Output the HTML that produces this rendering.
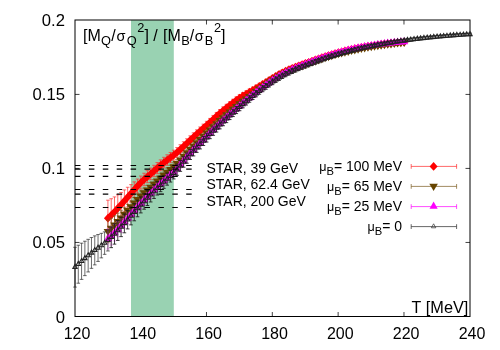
<!DOCTYPE html>
<html><head><meta charset="utf-8"><title>chart</title>
<style>html,body{margin:0;padding:0;background:#fff}svg{display:block;will-change:transform}text{font-family:"Liberation Sans",sans-serif;fill:#000}</style>
</head><body>
<svg width="500" height="350" viewBox="0 0 500 350">
<rect width="500" height="350" fill="#fff"/>
<path d="M140.63 316.5v-4.5M140.63 20v4.5M206.47 316.5v-4.5M206.47 20v4.5M272.3 316.5v-4.5M272.3 20v4.5M338.13 316.5v-4.5M338.13 20v4.5M403.97 316.5v-4.5M403.97 20v4.5M75 242.44h4.5M470 242.44h-4.5M75 168.42h4.5M470 168.42h-4.5M75 94.41h4.5M470 94.41h-4.5" fill="none" stroke="#000" stroke-width="0.75"/>
<rect x="131" y="20.1" width="42.8" height="296.4" fill="#99d2b2"/>
<rect x="75.0" y="20.0" width="395.0" height="296.5" fill="none" stroke="#000" stroke-width="1"/>
<path d="M107.92 200.19V236.19M106.12 200.19h3.6M106.12 236.19h3.6M111.21 198.73V231.52M109.41 198.73h3.6M109.41 231.52h3.6M114.5 196.91V226.66M112.7 196.91h3.6M112.7 226.66h3.6M117.79 194.8V221.72M115.99 194.8h3.6M115.99 221.72h3.6M121.08 192.47V216.8M119.28 192.47h3.6M119.28 216.8h3.6M124.38 189.91V211.91M122.58 189.91h3.6M122.58 211.91h3.6M127.67 187.27V207.02M125.87 187.27h3.6M125.87 207.02h3.6M130.96 184.63V202.15M129.16 184.63h3.6M129.16 202.15h3.6M134.25 181.89V197.41M132.45 181.89h3.6M132.45 197.41h3.6M137.54 179.04V192.98M135.74 179.04h3.6M135.74 192.98h3.6M140.83 176.05V189.05M139.03 176.05h3.6M139.03 189.05h3.6M144.12 173.24V185.72M142.32 173.24h3.6M142.32 185.72h3.6M147.42 170.64V182.69M145.62 170.64h3.6M145.62 182.69h3.6M150.71 168.05V179.73M148.91 168.05h3.6M148.91 179.73h3.6M154 165.32V176.69M152.2 165.32h3.6M152.2 176.69h3.6M157.29 162.57V173.68M155.49 162.57h3.6M155.49 173.68h3.6M160.58 159.89V170.75M158.78 159.89h3.6M158.78 170.75h3.6M163.88 157.32V167.97M162.07 157.32h3.6M162.07 167.97h3.6M167.17 154.83V165.27M165.37 154.83h3.6M165.37 165.27h3.6M170.46 152.48V162.71M168.66 152.48h3.6M168.66 162.71h3.6M173.75 150.2V160.2M171.95 150.2h3.6M171.95 160.2h3.6M177.04 147.56V157.32M175.24 147.56h3.6M175.24 157.32h3.6M180.33 144.73V154.26M178.53 144.73h3.6M178.53 154.26h3.6M183.62 141.77V151.07M181.82 141.77h3.6M181.82 151.07h3.6M186.92 138.78V147.86M185.12 138.78h3.6M185.12 147.86h3.6M190.21 135.8V144.67M188.41 135.8h3.6M188.41 144.67h3.6M193.5 132.82V141.5M191.7 132.82h3.6M191.7 141.5h3.6M196.79 129.87V138.36M194.99 129.87h3.6M194.99 138.36h3.6M200.08 126.97V135.28M198.28 126.97h3.6M198.28 135.28h3.6M203.38 124.14V132.29M201.57 124.14h3.6M201.57 132.29h3.6M206.67 121.32V129.32M204.87 121.32h3.6M204.87 129.32h3.6M209.96 118.42V126.29M208.16 118.42h3.6M208.16 126.29h3.6M213.25 115.43V123.16M211.45 115.43h3.6M211.45 123.16h3.6M216.54 112.46V120.06M214.74 112.46h3.6M214.74 120.06h3.6M219.83 109.6V117.08M218.03 109.6h3.6M218.03 117.08h3.6M223.12 106.88V114.24M221.32 106.88h3.6M221.32 114.24h3.6M226.42 104.27V111.52M224.62 104.27h3.6M224.62 111.52h3.6M229.71 101.74V108.88M227.91 101.74h3.6M227.91 108.88h3.6M233 99.27V106.3M231.2 99.27h3.6M231.2 106.3h3.6M236.29 96.89V103.81M234.49 96.89h3.6M234.49 103.81h3.6M239.58 94.63V101.45M237.78 94.63h3.6M237.78 101.45h3.6M242.88 92.6V99.33M241.07 92.6h3.6M241.07 99.33h3.6M246.17 90.81V97.45M244.37 90.81h3.6M244.37 97.45h3.6M249.46 89V95.54M247.66 89h3.6M247.66 95.54h3.6M252.75 87.07V93.53M250.95 87.07h3.6M250.95 93.53h3.6M256.04 85.17V91.55M254.24 85.17h3.6M254.24 91.55h3.6M259.33 83.27V89.57M257.53 83.27h3.6M257.53 89.57h3.6M262.62 81.35V87.56M260.82 81.35h3.6M260.82 87.56h3.6M265.92 79.36V85.5M264.12 79.36h3.6M264.12 85.5h3.6M269.21 77.34V83.41M267.41 77.34h3.6M267.41 83.41h3.6M272.5 75.34V81.34M270.7 75.34h3.6M270.7 81.34h3.6M275.79 73.4V79.34M273.99 73.4h3.6M273.99 79.34h3.6M279.08 71.58V77.44M277.28 71.58h3.6M277.28 77.44h3.6M282.38 69.91V75.7M280.57 69.91h3.6M280.57 75.7h3.6M285.67 68.36V74.09M283.87 68.36h3.6M283.87 74.09h3.6M288.96 66.92V72.58M287.16 66.92h3.6M287.16 72.58h3.6M292.25 65.58V71.17M290.45 65.58h3.6M290.45 71.17h3.6M295.54 64.31V69.83M293.74 64.31h3.6M293.74 69.83h3.6M298.83 63.11V68.57M297.03 63.11h3.6M297.03 68.57h3.6M302.12 61.97V67.36M300.32 61.97h3.6M300.32 67.36h3.6M305.42 60.84V66.17M303.62 60.84h3.6M303.62 66.17h3.6M308.71 59.71V64.97M306.91 59.71h3.6M306.91 64.97h3.6M312 58.57V63.77M310.2 58.57h3.6M310.2 63.77h3.6M315.29 57.44V62.58M313.49 57.44h3.6M313.49 62.58h3.6M318.58 56.32V61.4M316.78 56.32h3.6M316.78 61.4h3.6M321.88 55.22V60.24M320.07 55.22h3.6M320.07 60.24h3.6M325.17 54.15V59.11M323.37 54.15h3.6M323.37 59.11h3.6M328.46 53.11V58.02M326.66 53.11h3.6M326.66 58.02h3.6M331.75 52.12V56.97M329.95 52.12h3.6M329.95 56.97h3.6M335.04 51.18V55.97M333.24 51.18h3.6M333.24 55.97h3.6M338.33 50.3V55.03M336.53 50.3h3.6M336.53 55.03h3.6M341.62 49.46V54.14M339.82 49.46h3.6M339.82 54.14h3.6M344.92 48.65V53.29M343.12 48.65h3.6M343.12 53.29h3.6M348.21 47.89V52.47M346.41 47.89h3.6M346.41 52.47h3.6M351.5 47.16V51.69M349.7 47.16h3.6M349.7 51.69h3.6M354.79 46.48V50.96M352.99 46.48h3.6M352.99 50.96h3.6M358.08 45.84V50.28M356.28 45.84h3.6M356.28 50.28h3.6M361.38 45.24V49.64M359.57 45.24h3.6M359.57 49.64h3.6M364.67 44.68V49.04M362.87 44.68h3.6M362.87 49.04h3.6M367.96 44.16V48.48M366.16 44.16h3.6M366.16 48.48h3.6M371.25 43.67V47.95M369.45 43.67h3.6M369.45 47.95h3.6M374.54 43.21V47.45M372.74 43.21h3.6M372.74 47.45h3.6M377.83 42.76V46.97M376.03 42.76h3.6M376.03 46.97h3.6M381.12 42.34V46.51M379.32 42.34h3.6M379.32 46.51h3.6M384.42 41.93V46.07M382.62 41.93h3.6M382.62 46.07h3.6M387.71 41.55V45.67M385.91 41.55h3.6M385.91 45.67h3.6M391 41.2V45.29M389.2 41.2h3.6M389.2 45.29h3.6M394.29 40.88V44.94M392.49 40.88h3.6M392.49 44.94h3.6M397.58 40.58V44.61M395.78 40.58h3.6M395.78 44.61h3.6M400.88 40.3V44.32M399.07 40.3h3.6M399.07 44.32h3.6M404.17 40.06V44.06M402.37 40.06h3.6M402.37 44.06h3.6" fill="none" stroke="#ff2a2a" stroke-width="0.7"/>
<path d="M107.92 213.79l4 4.4l-4 4.4l-4 -4.4zM111.21 210.73l4 4.4l-4 4.4l-4 -4.4zM114.5 207.39l4 4.4l-4 4.4l-4 -4.4zM117.79 203.86l4 4.4l-4 4.4l-4 -4.4zM121.08 200.24l4 4.4l-4 4.4l-4 -4.4zM124.38 196.51l4 4.4l-4 4.4l-4 -4.4zM127.67 192.74l4 4.4l-4 4.4l-4 -4.4zM130.96 188.99l4 4.4l-4 4.4l-4 -4.4zM134.25 185.25l4 4.4l-4 4.4l-4 -4.4zM137.54 181.61l4 4.4l-4 4.4l-4 -4.4zM140.83 178.15l4 4.4l-4 4.4l-4 -4.4zM144.12 175.08l4 4.4l-4 4.4l-4 -4.4zM147.42 172.26l4 4.4l-4 4.4l-4 -4.4zM150.71 169.49l4 4.4l-4 4.4l-4 -4.4zM154 166.61l4 4.4l-4 4.4l-4 -4.4zM157.29 163.72l4 4.4l-4 4.4l-4 -4.4zM160.58 160.92l4 4.4l-4 4.4l-4 -4.4zM163.88 158.24l4 4.4l-4 4.4l-4 -4.4zM167.17 155.65l4 4.4l-4 4.4l-4 -4.4zM170.46 153.19l4 4.4l-4 4.4l-4 -4.4zM173.75 150.8l4 4.4l-4 4.4l-4 -4.4zM177.04 148.04l4 4.4l-4 4.4l-4 -4.4zM180.33 145.09l4 4.4l-4 4.4l-4 -4.4zM183.62 142.02l4 4.4l-4 4.4l-4 -4.4zM186.92 138.92l4 4.4l-4 4.4l-4 -4.4zM190.21 135.83l4 4.4l-4 4.4l-4 -4.4zM193.5 132.76l4 4.4l-4 4.4l-4 -4.4zM196.79 129.72l4 4.4l-4 4.4l-4 -4.4zM200.08 126.73l4 4.4l-4 4.4l-4 -4.4zM203.38 123.81l4 4.4l-4 4.4l-4 -4.4zM206.67 120.92l4 4.4l-4 4.4l-4 -4.4zM209.96 117.95l4 4.4l-4 4.4l-4 -4.4zM213.25 114.9l4 4.4l-4 4.4l-4 -4.4zM216.54 111.86l4 4.4l-4 4.4l-4 -4.4zM219.83 108.94l4 4.4l-4 4.4l-4 -4.4zM223.12 106.16l4 4.4l-4 4.4l-4 -4.4zM226.42 103.49l4 4.4l-4 4.4l-4 -4.4zM229.71 100.91l4 4.4l-4 4.4l-4 -4.4zM233 98.38l4 4.4l-4 4.4l-4 -4.4zM236.29 95.95l4 4.4l-4 4.4l-4 -4.4zM239.58 93.64l4 4.4l-4 4.4l-4 -4.4zM242.88 91.57l4 4.4l-4 4.4l-4 -4.4zM246.17 89.73l4 4.4l-4 4.4l-4 -4.4zM249.46 87.87l4 4.4l-4 4.4l-4 -4.4zM252.75 85.9l4 4.4l-4 4.4l-4 -4.4zM256.04 83.96l4 4.4l-4 4.4l-4 -4.4zM259.33 82.02l4 4.4l-4 4.4l-4 -4.4zM262.62 80.06l4 4.4l-4 4.4l-4 -4.4zM265.92 78.03l4 4.4l-4 4.4l-4 -4.4zM269.21 75.97l4 4.4l-4 4.4l-4 -4.4zM272.5 73.94l4 4.4l-4 4.4l-4 -4.4zM275.79 71.97l4 4.4l-4 4.4l-4 -4.4zM279.08 70.11l4 4.4l-4 4.4l-4 -4.4zM282.38 68.41l4 4.4l-4 4.4l-4 -4.4zM285.67 66.83l4 4.4l-4 4.4l-4 -4.4zM288.96 65.35l4 4.4l-4 4.4l-4 -4.4zM292.25 63.97l4 4.4l-4 4.4l-4 -4.4zM295.54 62.67l4 4.4l-4 4.4l-4 -4.4zM298.83 61.44l4 4.4l-4 4.4l-4 -4.4zM302.12 60.26l4 4.4l-4 4.4l-4 -4.4zM305.42 59.1l4 4.4l-4 4.4l-4 -4.4zM308.71 57.94l4 4.4l-4 4.4l-4 -4.4zM312 56.77l4 4.4l-4 4.4l-4 -4.4zM315.29 55.61l4 4.4l-4 4.4l-4 -4.4zM318.58 54.46l4 4.4l-4 4.4l-4 -4.4zM321.88 53.33l4 4.4l-4 4.4l-4 -4.4zM325.17 52.23l4 4.4l-4 4.4l-4 -4.4zM328.46 51.17l4 4.4l-4 4.4l-4 -4.4zM331.75 50.15l4 4.4l-4 4.4l-4 -4.4zM335.04 49.18l4 4.4l-4 4.4l-4 -4.4zM338.33 48.26l4 4.4l-4 4.4l-4 -4.4zM341.62 47.4l4 4.4l-4 4.4l-4 -4.4zM344.92 46.57l4 4.4l-4 4.4l-4 -4.4zM348.21 45.78l4 4.4l-4 4.4l-4 -4.4zM351.5 45.03l4 4.4l-4 4.4l-4 -4.4zM354.79 44.32l4 4.4l-4 4.4l-4 -4.4zM358.08 43.66l4 4.4l-4 4.4l-4 -4.4zM361.38 43.04l4 4.4l-4 4.4l-4 -4.4zM364.67 42.46l4 4.4l-4 4.4l-4 -4.4zM367.96 41.92l4 4.4l-4 4.4l-4 -4.4zM371.25 41.41l4 4.4l-4 4.4l-4 -4.4zM374.54 40.93l4 4.4l-4 4.4l-4 -4.4zM377.83 40.47l4 4.4l-4 4.4l-4 -4.4zM381.12 40.02l4 4.4l-4 4.4l-4 -4.4zM384.42 39.6l4 4.4l-4 4.4l-4 -4.4zM387.71 39.21l4 4.4l-4 4.4l-4 -4.4zM391 38.84l4 4.4l-4 4.4l-4 -4.4zM394.29 38.51l4 4.4l-4 4.4l-4 -4.4zM397.58 38.2l4 4.4l-4 4.4l-4 -4.4zM400.88 37.91l4 4.4l-4 4.4l-4 -4.4zM404.17 37.66l4 4.4l-4 4.4l-4 -4.4z" fill="#ff0000"/>
<path d="M107.92 220.21V242.81M106.12 220.21h3.6M106.12 242.81h3.6M111.21 218.18V238.72M109.41 218.18h3.6M109.41 238.72h3.6M114.5 215.8V234.45M112.7 215.8h3.6M112.7 234.45h3.6M117.79 213.13V230.13M115.99 213.13h3.6M115.99 230.13h3.6M121.08 210.27V225.8M119.28 210.27h3.6M119.28 225.8h3.6M124.38 207.32V221.49M122.58 207.32h3.6M122.58 221.49h3.6M127.67 204.21V217.19M125.87 204.21h3.6M125.87 217.19h3.6M130.96 200.94V212.94M129.16 200.94h3.6M129.16 212.94h3.6M134.25 197.59V208.76M132.45 197.59h3.6M132.45 208.76h3.6M137.54 194.25V204.73M135.74 194.25h3.6M135.74 204.73h3.6M140.83 190.98V200.98M139.03 190.98h3.6M139.03 200.98h3.6M144.12 188.07V197.75M142.32 188.07h3.6M142.32 197.75h3.6M147.42 185.39V194.81M145.62 185.39h3.6M145.62 194.81h3.6M150.71 182.65V191.83M148.91 182.65h3.6M148.91 191.83h3.6M154 179.67V188.65M152.2 179.67h3.6M152.2 188.65h3.6M157.29 176.67V185.46M155.49 176.67h3.6M155.49 185.46h3.6M160.58 173.72V182.35M158.78 173.72h3.6M158.78 182.35h3.6M163.88 170.87V179.35M162.07 170.87h3.6M162.07 179.35h3.6M167.17 168.08V176.41M165.37 168.08h3.6M165.37 176.41h3.6M170.46 165.4V173.57M168.66 165.4h3.6M168.66 173.57h3.6M173.75 162.75V170.75M171.95 162.75h3.6M171.95 170.75h3.6M177.04 159.63V167.45M175.24 159.63h3.6M175.24 167.45h3.6M180.33 156.2V163.84M178.53 156.2h3.6M178.53 163.84h3.6M183.62 152.64V160.1M181.82 152.64h3.6M181.82 160.1h3.6M186.92 149.14V156.42M185.12 149.14h3.6M185.12 156.42h3.6M190.21 145.82V152.93M188.41 145.82h3.6M188.41 152.93h3.6M193.5 142.58V149.53M191.7 142.58h3.6M191.7 149.53h3.6M196.79 139.39V146.19M194.99 139.39h3.6M194.99 146.19h3.6M200.08 136.24V142.89M198.28 136.24h3.6M198.28 142.89h3.6M203.38 133.12V139.64M201.57 133.12h3.6M201.57 139.64h3.6M206.67 130.01V136.41M204.87 130.01h3.6M204.87 136.41h3.6M209.96 126.89V133.18M208.16 126.89h3.6M208.16 133.18h3.6M213.25 123.77V129.95M211.45 123.77h3.6M211.45 129.95h3.6M216.54 120.7V126.78M214.74 120.7h3.6M214.74 126.78h3.6M219.83 117.71V123.7M218.03 117.71h3.6M218.03 123.7h3.6M223.12 114.81V120.7M221.32 114.81h3.6M221.32 120.7h3.6M226.42 111.98V117.77M224.62 111.98h3.6M224.62 117.77h3.6M229.71 109.19V114.9M227.91 109.19h3.6M227.91 114.9h3.6M233 106.46V112.08M231.2 106.46h3.6M231.2 112.08h3.6M236.29 103.78V109.33M234.49 103.78h3.6M234.49 109.33h3.6M239.58 101.18V106.64M237.78 101.18h3.6M237.78 106.64h3.6M242.88 98.71V104.09M241.07 98.71h3.6M241.07 104.09h3.6M246.17 96.36V101.67M244.37 96.36h3.6M244.37 101.67h3.6M249.46 93.97V99.2M247.66 93.97h3.6M247.66 99.2h3.6M252.75 91.46V96.63M250.95 91.46h3.6M250.95 96.63h3.6M256.04 88.96V94.06M254.24 88.96h3.6M254.24 94.06h3.6M259.33 86.52V91.56M257.53 86.52h3.6M257.53 91.56h3.6M262.62 84.16V89.14M260.82 84.16h3.6M260.82 89.14h3.6M265.92 81.92V86.84M264.12 81.92h3.6M264.12 86.84h3.6M269.21 79.76V84.62M267.41 79.76h3.6M267.41 84.62h3.6M272.5 77.68V82.48M270.7 77.68h3.6M270.7 82.48h3.6M275.79 75.69V80.43M273.99 75.69h3.6M273.99 80.43h3.6M279.08 73.81V78.5M277.28 73.81h3.6M277.28 78.5h3.6M282.38 72.06V76.69M280.57 72.06h3.6M280.57 76.69h3.6M285.67 70.42V75M283.87 70.42h3.6M283.87 75h3.6M288.96 68.89V73.42M287.16 68.89h3.6M287.16 73.42h3.6M292.25 67.45V71.93M290.45 67.45h3.6M290.45 71.93h3.6M295.54 66.1V70.52M293.74 66.1h3.6M293.74 70.52h3.6M298.83 64.84V69.2M297.03 64.84h3.6M297.03 69.2h3.6M302.12 63.63V67.95M300.32 63.63h3.6M300.32 67.95h3.6M305.42 62.47V66.73M303.62 62.47h3.6M303.62 66.73h3.6M308.71 61.31V65.53M306.91 61.31h3.6M306.91 65.53h3.6M312 60.16V64.32M310.2 60.16h3.6M310.2 64.32h3.6M315.29 59.02V63.13M313.49 59.02h3.6M313.49 63.13h3.6M318.58 57.89V61.96M316.78 57.89h3.6M316.78 61.96h3.6M321.88 56.79V60.81M320.07 56.79h3.6M320.07 60.81h3.6M325.17 55.72V59.69M323.37 55.72h3.6M323.37 59.69h3.6M328.46 54.69V58.61M326.66 54.69h3.6M326.66 58.61h3.6M331.75 53.69V57.57M329.95 53.69h3.6M329.95 57.57h3.6M335.04 52.75V56.59M333.24 52.75h3.6M333.24 56.59h3.6M338.33 51.87V55.66M336.53 51.87h3.6M336.53 55.66h3.6M341.62 51.03V54.78M339.82 51.03h3.6M339.82 54.78h3.6M344.92 50.22V53.93M343.12 50.22h3.6M343.12 53.93h3.6M348.21 49.45V53.11M346.41 49.45h3.6M346.41 53.11h3.6M351.5 48.71V52.33M349.7 48.71h3.6M349.7 52.33h3.6M354.79 48V51.59M352.99 48h3.6M352.99 51.59h3.6M358.08 47.32V50.88M356.28 47.32h3.6M356.28 50.88h3.6M361.38 46.68V50.2M359.57 46.68h3.6M359.57 50.2h3.6M364.67 46.07V49.55M362.87 46.07h3.6M362.87 49.55h3.6M367.96 45.49V48.94M366.16 45.49h3.6M366.16 48.94h3.6M371.25 44.94V48.36M369.45 44.94h3.6M369.45 48.36h3.6M374.54 44.42V47.81M372.74 44.42h3.6M372.74 47.81h3.6M377.83 43.92V47.29M376.03 43.92h3.6M376.03 47.29h3.6M381.12 43.45V46.78M379.32 43.45h3.6M379.32 46.78h3.6M384.42 42.99V46.3M382.62 42.99h3.6M382.62 46.3h3.6M387.71 42.56V45.85M385.91 42.56h3.6M385.91 45.85h3.6M391 42.15V45.42M389.2 42.15h3.6M389.2 45.42h3.6M394.29 41.77V45.02M392.49 41.77h3.6M392.49 45.02h3.6M397.58 41.41V44.64M395.78 41.41h3.6M395.78 44.64h3.6M400.88 41.07V44.29M399.07 41.07h3.6M399.07 44.29h3.6M404.17 40.76V43.96M402.37 40.76h3.6M402.37 43.96h3.6" fill="none" stroke="#7a5a20" stroke-width="0.7"/>
<path d="M103.62 228.91h8.6l-4.3 7.2zM106.91 225.85h8.6l-4.3 7.2zM110.2 222.53h8.6l-4.3 7.2zM113.49 219.03h8.6l-4.3 7.2zM116.78 215.43h8.6l-4.3 7.2zM120.08 211.8h8.6l-4.3 7.2zM123.37 208.1h8.6l-4.3 7.2zM126.66 204.34h8.6l-4.3 7.2zM129.95 200.58h8.6l-4.3 7.2zM133.24 196.89h8.6l-4.3 7.2zM136.53 193.38h8.6l-4.3 7.2zM139.82 190.31h8.6l-4.3 7.2zM143.12 187.5h8.6l-4.3 7.2zM146.41 184.64h8.6l-4.3 7.2zM149.7 181.56h8.6l-4.3 7.2zM152.99 178.47h8.6l-4.3 7.2zM156.28 175.44h8.6l-4.3 7.2zM159.57 172.51h8.6l-4.3 7.2zM162.87 169.64h8.6l-4.3 7.2zM166.16 166.88h8.6l-4.3 7.2zM169.45 164.15h8.6l-4.3 7.2zM172.74 160.94h8.6l-4.3 7.2zM176.03 157.42h8.6l-4.3 7.2zM179.32 153.77h8.6l-4.3 7.2zM182.62 150.18h8.6l-4.3 7.2zM185.91 146.78h8.6l-4.3 7.2zM189.2 143.45h8.6l-4.3 7.2zM192.49 140.19h8.6l-4.3 7.2zM195.78 136.97h8.6l-4.3 7.2zM199.07 133.78h8.6l-4.3 7.2zM202.37 130.61h8.6l-4.3 7.2zM205.66 127.44h8.6l-4.3 7.2zM208.95 124.26h8.6l-4.3 7.2zM212.24 121.14h8.6l-4.3 7.2zM215.53 118.11h8.6l-4.3 7.2zM218.82 115.16h8.6l-4.3 7.2zM222.12 112.27h8.6l-4.3 7.2zM225.41 109.45h8.6l-4.3 7.2zM228.7 106.67h8.6l-4.3 7.2zM231.99 103.95h8.6l-4.3 7.2zM235.28 101.31h8.6l-4.3 7.2zM238.57 98.8h8.6l-4.3 7.2zM241.87 96.41h8.6l-4.3 7.2zM245.16 93.98h8.6l-4.3 7.2zM248.45 91.44h8.6l-4.3 7.2zM251.74 88.91h8.6l-4.3 7.2zM255.03 86.44h8.6l-4.3 7.2zM258.32 84.05h8.6l-4.3 7.2zM261.62 81.78h8.6l-4.3 7.2zM264.91 79.59h8.6l-4.3 7.2zM268.2 77.48h8.6l-4.3 7.2zM271.49 75.46h8.6l-4.3 7.2zM274.78 73.55h8.6l-4.3 7.2zM278.07 71.77h8.6l-4.3 7.2zM281.37 70.11h8.6l-4.3 7.2zM284.66 68.56h8.6l-4.3 7.2zM287.95 67.09h8.6l-4.3 7.2zM291.24 65.71h8.6l-4.3 7.2zM294.53 64.42h8.6l-4.3 7.2zM297.82 63.19h8.6l-4.3 7.2zM301.12 62h8.6l-4.3 7.2zM304.41 60.82h8.6l-4.3 7.2zM307.7 59.64h8.6l-4.3 7.2zM310.99 58.48h8.6l-4.3 7.2zM314.28 57.33h8.6l-4.3 7.2zM317.57 56.2h8.6l-4.3 7.2zM320.87 55.1h8.6l-4.3 7.2zM324.16 54.05h8.6l-4.3 7.2zM327.45 53.03h8.6l-4.3 7.2zM330.74 52.07h8.6l-4.3 7.2zM334.03 51.17h8.6l-4.3 7.2zM337.32 50.3h8.6l-4.3 7.2zM340.62 49.48h8.6l-4.3 7.2zM343.91 48.68h8.6l-4.3 7.2zM347.2 47.92h8.6l-4.3 7.2zM350.49 47.19h8.6l-4.3 7.2zM353.78 46.5h8.6l-4.3 7.2zM357.07 45.84h8.6l-4.3 7.2zM360.37 45.21h8.6l-4.3 7.2zM363.66 44.61h8.6l-4.3 7.2zM366.95 44.05h8.6l-4.3 7.2zM370.24 43.52h8.6l-4.3 7.2zM373.53 43h8.6l-4.3 7.2zM376.82 42.51h8.6l-4.3 7.2zM380.12 42.05h8.6l-4.3 7.2zM383.41 41.6h8.6l-4.3 7.2zM386.7 41.19h8.6l-4.3 7.2zM389.99 40.79h8.6l-4.3 7.2zM393.28 40.42h8.6l-4.3 7.2zM396.57 40.08h8.6l-4.3 7.2zM399.87 39.76h8.6l-4.3 7.2z" fill="#664400"/>
<path d="M107.92 228.99V248.99M106.12 228.99h3.6M106.12 248.99h3.6M111.21 226.86V245.06M109.41 226.86h3.6M109.41 245.06h3.6M114.5 224.4V240.93M112.7 224.4h3.6M112.7 240.93h3.6M117.79 221.7V236.7M115.99 221.7h3.6M115.99 236.7h3.6M121.08 218.9V232.4M119.28 218.9h3.6M119.28 232.4h3.6M124.38 216.09V228.12M122.58 216.09h3.6M122.58 228.12h3.6M127.67 213.07V223.87M125.87 213.07h3.6M125.87 223.87h3.6M130.96 209.73V219.73M129.16 209.73h3.6M129.16 219.73h3.6M134.25 206.18V215.75M132.45 206.18h3.6M132.45 215.75h3.6M137.54 202.64V211.9M135.74 202.64h3.6M135.74 211.9h3.6M140.83 199.22V208.22M139.03 199.22h3.6M139.03 208.22h3.6M144.12 195.92V204.66M142.32 195.92h3.6M142.32 204.66h3.6M147.42 192.68V201.18M145.62 192.68h3.6M145.62 201.18h3.6M150.71 189.5V197.77M148.91 189.5h3.6M148.91 197.77h3.6M154 186.38V194.42M152.2 186.38h3.6M152.2 194.42h3.6M157.29 183.29V191.13M155.49 183.29h3.6M155.49 191.13h3.6M160.58 180.27V187.91M158.78 180.27h3.6M158.78 187.91h3.6M163.88 177.31V184.77M162.07 177.31h3.6M162.07 184.77h3.6M167.17 174.39V181.68M165.37 174.39h3.6M165.37 181.68h3.6M170.46 171.55V178.69M168.66 171.55h3.6M168.66 178.69h3.6M173.75 168.7V175.7M171.95 168.7h3.6M171.95 175.7h3.6M177.04 165.31V172.18M175.24 165.31h3.6M175.24 172.18h3.6M180.33 161.54V168.29M178.53 161.54h3.6M178.53 168.29h3.6M183.62 157.63V164.27M181.82 157.63h3.6M181.82 164.27h3.6M186.92 153.82V160.37M185.12 153.82h3.6M185.12 160.37h3.6M190.21 150.29V156.73M188.41 150.29h3.6M188.41 156.73h3.6M193.5 146.88V153.23M191.7 146.88h3.6M191.7 153.23h3.6M196.79 143.53V149.8M194.99 143.53h3.6M194.99 149.8h3.6M200.08 140.23V146.4M198.28 140.23h3.6M198.28 146.4h3.6M203.38 136.93V143.02M201.57 136.93h3.6M201.57 143.02h3.6M206.67 133.65V139.65M204.87 133.65h3.6M204.87 139.65h3.6M209.96 130.4V136.31M208.16 130.4h3.6M208.16 136.31h3.6M213.25 127.2V133.02M211.45 127.2h3.6M211.45 133.02h3.6M216.54 124.07V129.8M214.74 124.07h3.6M214.74 129.8h3.6M219.83 121.02V126.66M218.03 121.02h3.6M218.03 126.66h3.6M223.12 118.02V123.56M221.32 118.02h3.6M221.32 123.56h3.6M226.42 115.06V120.51M224.62 115.06h3.6M224.62 120.51h3.6M229.71 112.14V117.5M227.91 112.14h3.6M227.91 117.5h3.6M233 109.27V114.53M231.2 109.27h3.6M231.2 114.53h3.6M236.29 106.43V111.61M234.49 106.43h3.6M234.49 111.61h3.6M239.58 103.64V108.73M237.78 103.64h3.6M237.78 108.73h3.6M242.88 100.89V105.89M241.07 100.89h3.6M241.07 105.89h3.6M246.17 98.18V103.11M244.37 98.18h3.6M244.37 103.11h3.6M249.46 95.52V100.36M247.66 95.52h3.6M247.66 100.36h3.6M252.75 92.89V97.65M250.95 92.89h3.6M250.95 97.65h3.6M256.04 90.31V95M254.24 90.31h3.6M254.24 95h3.6M259.33 87.79V92.42M257.53 87.79h3.6M257.53 92.42h3.6M262.62 85.36V89.93M260.82 85.36h3.6M260.82 89.93h3.6M265.92 83.03V87.54M264.12 83.03h3.6M264.12 87.54h3.6M269.21 80.76V85.21M267.41 80.76h3.6M267.41 85.21h3.6M272.5 78.56V82.96M270.7 78.56h3.6M270.7 82.96h3.6M275.79 76.45V80.81M273.99 76.45h3.6M273.99 80.81h3.6M279.08 74.46V78.77M277.28 74.46h3.6M277.28 78.77h3.6M282.38 72.62V76.88M280.57 72.62h3.6M280.57 76.88h3.6M285.67 70.9V75.12M283.87 70.9h3.6M283.87 75.12h3.6M288.96 69.29V73.46M287.16 69.29h3.6M287.16 73.46h3.6M292.25 67.78V71.91M290.45 67.78h3.6M290.45 71.91h3.6M295.54 66.35V70.44M293.74 66.35h3.6M293.74 70.44h3.6M298.83 65.02V69.06M297.03 65.02h3.6M297.03 69.06h3.6M302.12 63.75V67.74M300.32 63.75h3.6M300.32 67.74h3.6M305.42 62.52V66.47M303.62 62.52h3.6M303.62 66.47h3.6M308.71 61.3V65.21M306.91 61.3h3.6M306.91 65.21h3.6M312 60.09V63.96M310.2 60.09h3.6M310.2 63.96h3.6M315.29 58.89V62.72M313.49 58.89h3.6M313.49 62.72h3.6M318.58 57.71V61.5M316.78 57.71h3.6M316.78 61.5h3.6M321.88 56.57V60.32M320.07 56.57h3.6M320.07 60.32h3.6M325.17 55.45V59.16M323.37 55.45h3.6M323.37 59.16h3.6M328.46 54.37V58.05M326.66 54.37h3.6M326.66 58.05h3.6M331.75 53.34V56.98M329.95 53.34h3.6M329.95 56.98h3.6M335.04 52.36V55.96M333.24 52.36h3.6M333.24 55.96h3.6M338.33 51.43V55M336.53 51.43h3.6M336.53 55h3.6M341.62 50.55V54.09M339.82 50.55h3.6M339.82 54.09h3.6M344.92 49.7V53.2M343.12 49.7h3.6M343.12 53.2h3.6M348.21 48.87V52.35M346.41 48.87h3.6M346.41 52.35h3.6M351.5 48.08V51.52M349.7 48.08h3.6M349.7 51.52h3.6M354.79 47.33V50.75M352.99 47.33h3.6M352.99 50.75h3.6M358.08 46.63V50.02M356.28 46.63h3.6M356.28 50.02h3.6M361.38 45.98V49.34M359.57 45.98h3.6M359.57 49.34h3.6M364.67 45.36V48.71M362.87 45.36h3.6M362.87 48.71h3.6M367.96 44.79V48.11M366.16 44.79h3.6M366.16 48.11h3.6M371.25 44.25V47.56M369.45 44.25h3.6M369.45 47.56h3.6M374.54 43.74V47.03M372.74 43.74h3.6M372.74 47.03h3.6M377.83 43.26V46.52M376.03 43.26h3.6M376.03 46.52h3.6M381.12 42.79V46.04M379.32 42.79h3.6M379.32 46.04h3.6M384.42 42.35V45.59M382.62 42.35h3.6M382.62 45.59h3.6M387.71 41.95V45.18M385.91 41.95h3.6M385.91 45.18h3.6M391 41.59V44.8M389.2 41.59h3.6M389.2 44.8h3.6M394.29 41.26V44.47M392.49 41.26h3.6M392.49 44.47h3.6M397.58 40.96V44.16M395.78 40.96h3.6M395.78 44.16h3.6M400.88 40.69V43.89M399.07 40.69h3.6M399.07 43.89h3.6M404.17 40.45V43.65M402.37 40.45h3.6M402.37 43.65h3.6" fill="none" stroke="#ff50ff" stroke-width="0.5"/>
<path d="M103.82 241.19h8.2l-4.1 -7.2zM107.11 238.16h8.2l-4.1 -7.2zM110.4 234.87h8.2l-4.1 -7.2zM113.69 231.4h8.2l-4.1 -7.2zM116.98 227.85h8.2l-4.1 -7.2zM120.28 224.3h8.2l-4.1 -7.2zM123.57 220.67h8.2l-4.1 -7.2zM126.86 216.93h8.2l-4.1 -7.2zM130.15 213.17h8.2l-4.1 -7.2zM133.44 209.47h8.2l-4.1 -7.2zM136.73 205.92h8.2l-4.1 -7.2zM140.03 202.49h8.2l-4.1 -7.2zM143.32 199.13h8.2l-4.1 -7.2zM146.61 195.84h8.2l-4.1 -7.2zM149.9 192.6h8.2l-4.1 -7.2zM153.19 189.41h8.2l-4.1 -7.2zM156.48 186.29h8.2l-4.1 -7.2zM159.78 183.24h8.2l-4.1 -7.2zM163.07 180.24h8.2l-4.1 -7.2zM166.36 177.32h8.2l-4.1 -7.2zM169.65 174.4h8.2l-4.1 -7.2zM172.94 170.95h8.2l-4.1 -7.2zM176.23 167.12h8.2l-4.1 -7.2zM179.53 163.15h8.2l-4.1 -7.2zM182.82 159.29h8.2l-4.1 -7.2zM186.11 155.71h8.2l-4.1 -7.2zM189.4 152.25h8.2l-4.1 -7.2zM192.69 148.87h8.2l-4.1 -7.2zM195.98 145.52h8.2l-4.1 -7.2zM199.28 142.17h8.2l-4.1 -7.2zM202.57 138.85h8.2l-4.1 -7.2zM205.86 135.55h8.2l-4.1 -7.2zM209.15 132.31h8.2l-4.1 -7.2zM212.44 129.14h8.2l-4.1 -7.2zM215.73 126.04h8.2l-4.1 -7.2zM219.03 122.99h8.2l-4.1 -7.2zM222.32 119.99h8.2l-4.1 -7.2zM225.61 117.02h8.2l-4.1 -7.2zM228.9 114.1h8.2l-4.1 -7.2zM232.19 111.22h8.2l-4.1 -7.2zM235.48 108.38h8.2l-4.1 -7.2zM238.78 105.59h8.2l-4.1 -7.2zM242.07 102.85h8.2l-4.1 -7.2zM245.36 100.14h8.2l-4.1 -7.2zM248.65 97.47h8.2l-4.1 -7.2zM251.94 94.85h8.2l-4.1 -7.2zM255.23 92.31h8.2l-4.1 -7.2zM258.52 89.84h8.2l-4.1 -7.2zM261.82 87.48h8.2l-4.1 -7.2zM265.11 85.19h8.2l-4.1 -7.2zM268.4 82.96h8.2l-4.1 -7.2zM271.69 80.83h8.2l-4.1 -7.2zM274.98 78.82h8.2l-4.1 -7.2zM278.27 76.95h8.2l-4.1 -7.2zM281.57 75.21h8.2l-4.1 -7.2zM284.86 73.58h8.2l-4.1 -7.2zM288.15 72.04h8.2l-4.1 -7.2zM291.44 70.6h8.2l-4.1 -7.2zM294.73 69.24h8.2l-4.1 -7.2zM298.02 67.95h8.2l-4.1 -7.2zM301.32 66.69h8.2l-4.1 -7.2zM304.61 65.45h8.2l-4.1 -7.2zM307.9 64.22h8.2l-4.1 -7.2zM311.19 63h8.2l-4.1 -7.2zM314.48 61.81h8.2l-4.1 -7.2zM317.77 60.64h8.2l-4.1 -7.2zM321.07 59.51h8.2l-4.1 -7.2zM324.36 58.41h8.2l-4.1 -7.2zM327.65 57.36h8.2l-4.1 -7.2zM330.94 56.36h8.2l-4.1 -7.2zM334.23 55.42h8.2l-4.1 -7.2zM337.52 54.52h8.2l-4.1 -7.2zM340.82 53.65h8.2l-4.1 -7.2zM344.11 52.81h8.2l-4.1 -7.2zM347.4 52h8.2l-4.1 -7.2zM350.69 51.24h8.2l-4.1 -7.2zM353.98 50.53h8.2l-4.1 -7.2zM357.27 49.86h8.2l-4.1 -7.2zM360.57 49.24h8.2l-4.1 -7.2zM363.86 48.65h8.2l-4.1 -7.2zM367.15 48.11h8.2l-4.1 -7.2zM370.44 47.59h8.2l-4.1 -7.2zM373.73 47.09h8.2l-4.1 -7.2zM377.02 46.61h8.2l-4.1 -7.2zM380.32 46.17h8.2l-4.1 -7.2zM383.61 45.76h8.2l-4.1 -7.2zM386.9 45.4h8.2l-4.1 -7.2zM390.19 45.06h8.2l-4.1 -7.2zM393.48 44.76h8.2l-4.1 -7.2zM396.77 44.49h8.2l-4.1 -7.2zM400.07 44.25h8.2l-4.1 -7.2z" fill="#ff00ff"/>
<path d="M75 247.3V287.1M73.2 247.3h3.6M73.2 287.1h3.6M78.29 245.21V283.21M76.49 245.21h3.6M76.49 283.21h3.6M81.58 243.18V279.38M79.78 243.18h3.6M79.78 279.38h3.6M84.88 241.23V275.63M83.08 241.23h3.6M83.08 275.63h3.6M88.17 239.34V271.95M86.37 239.34h3.6M86.37 271.95h3.6M91.46 237.52V268.35M89.66 237.52h3.6M89.66 268.35h3.6M94.75 235.88V264.88M92.95 235.88h3.6M92.95 264.88h3.6M98.04 234.54V261.41M96.24 234.54h3.6M96.24 261.41h3.6M101.33 233.33V257.86M99.53 233.33h3.6M99.53 257.86h3.6M104.62 231.87V254.35M102.83 231.87h3.6M102.83 254.35h3.6M107.92 229.79V250.99M106.12 229.79h3.6M106.12 250.99h3.6" fill="none" stroke="#1a1a1a" stroke-width="0.65"/>
<path d="M111.21 227.03V247.64M109.41 227.03h3.6M109.41 247.64h3.6M114.5 223.91V244.13M112.7 223.91h3.6M112.7 244.13h3.6M117.79 220.63V240.43M115.99 220.63h3.6M115.99 240.43h3.6M121.08 217.3V236.62M119.28 217.3h3.6M119.28 236.62h3.6M124.38 213.98V232.81M122.58 213.98h3.6M122.58 232.81h3.6M127.67 210.58V228.91M125.87 210.58h3.6M125.87 228.91h3.6M130.96 207.08V224.88M129.16 207.08h3.6M129.16 224.88h3.6M134.25 203.59V220.8M132.45 203.59h3.6M132.45 220.8h3.6M137.54 200.18V216.77M135.74 200.18h3.6M135.74 216.77h3.6M140.83 196.91V212.91M139.03 196.91h3.6M139.03 212.91h3.6M144.12 193.74V209.19M142.32 193.74h3.6M142.32 209.19h3.6M147.42 190.64V205.54M145.62 190.64h3.6M145.62 205.54h3.6M150.71 187.59V201.96M148.91 187.59h3.6M148.91 201.96h3.6M154 184.59V198.46M152.2 184.59h3.6M152.2 198.46h3.6M157.29 181.62V195.02M155.49 181.62h3.6M155.49 195.02h3.6M160.58 178.71V191.66M158.78 178.71h3.6M158.78 191.66h3.6M163.88 175.86V188.38M162.07 175.86h3.6M162.07 188.38h3.6M167.17 173.04V185.16M165.37 173.04h3.6M165.37 185.16h3.6M170.46 170.3V182.04M168.66 170.3h3.6M168.66 182.04h3.6M173.75 167.54V178.94M171.95 167.54h3.6M171.95 178.94h3.6M177.04 164.24V175.32M175.24 164.24h3.6M175.24 175.32h3.6M180.33 160.55V171.33M178.53 160.55h3.6M178.53 171.33h3.6M183.62 156.72V167.21M181.82 156.72h3.6M181.82 167.21h3.6M186.92 153V163.21M185.12 153h3.6M185.12 163.21h3.6M190.21 149.54V159.49M188.41 149.54h3.6M188.41 159.49h3.6M193.5 146.21V155.91M191.7 146.21h3.6M191.7 155.91h3.6M196.79 142.94V152.4M194.99 142.94h3.6M194.99 152.4h3.6M200.08 139.7V148.93M198.28 139.7h3.6M198.28 148.93h3.6M203.38 136.47V145.48M201.57 136.47h3.6M201.57 145.48h3.6M206.67 133.25V142.05M204.87 133.25h3.6M204.87 142.05h3.6M209.96 130.06V138.66M208.16 130.06h3.6M208.16 138.66h3.6M213.25 126.92V135.32M211.45 126.92h3.6M211.45 135.32h3.6M216.54 123.84V132.04M214.74 123.84h3.6M214.74 132.04h3.6M219.83 120.84V128.86M218.03 120.84h3.6M218.03 128.86h3.6M223.12 117.89V125.72M221.32 117.89h3.6M221.32 125.72h3.6M226.42 114.98V122.62M224.62 114.98h3.6M224.62 122.62h3.6M229.71 112.11V119.57M227.91 112.11h3.6M227.91 119.57h3.6M233 109.28V116.56M231.2 109.28h3.6M231.2 116.56h3.6M236.29 106.49V113.6M234.49 106.49h3.6M234.49 113.6h3.6M239.58 103.74V110.69M237.78 103.74h3.6M237.78 110.69h3.6M242.88 101.03V107.82M241.07 101.03h3.6M241.07 107.82h3.6M246.17 98.37V105M244.37 98.37h3.6M244.37 105h3.6M249.46 95.75V102.23M247.66 95.75h3.6M247.66 102.23h3.6M252.75 93.15V99.49M250.95 93.15h3.6M250.95 99.49h3.6M256.04 90.61V96.81M254.24 90.61h3.6M254.24 96.81h3.6M259.33 88.13V94.2M257.53 88.13h3.6M257.53 94.2h3.6M262.62 85.74V91.68M260.82 85.74h3.6M260.82 91.68h3.6M265.92 83.44V89.26M264.12 83.44h3.6M264.12 89.26h3.6M269.21 81.21V86.92M267.41 81.21h3.6M267.41 86.92h3.6M272.5 79.04V84.64M270.7 79.04h3.6M270.7 84.64h3.6M275.79 76.96V82.46M273.99 76.96h3.6M273.99 82.46h3.6M279.08 75V80.41M277.28 75h3.6M277.28 80.41h3.6M282.38 73.18V78.5M280.57 73.18h3.6M280.57 78.5h3.6M285.67 71.48V76.72M283.87 71.48h3.6M283.87 76.72h3.6M288.96 69.89V75.05M287.16 69.89h3.6M287.16 75.05h3.6M292.25 68.4V73.48M290.45 68.4h3.6M290.45 73.48h3.6M295.54 66.99V72M293.74 66.99h3.6M293.74 72h3.6M298.83 65.67V70.6M297.03 65.67h3.6M297.03 70.6h3.6M302.12 64.41V69.28M300.32 64.41h3.6M300.32 69.28h3.6M305.42 63.19V67.99M303.62 63.19h3.6M303.62 67.99h3.6M308.71 61.98V66.72M306.91 61.98h3.6M306.91 66.72h3.6M312 60.78V65.45M310.2 60.78h3.6M310.2 65.45h3.6M315.29 59.58V64.2M313.49 59.58h3.6M313.49 64.2h3.6M318.58 58.41V62.97M316.78 58.41h3.6M316.78 62.97h3.6M321.88 57.26V61.76M320.07 57.26h3.6M320.07 61.76h3.6M325.17 56.14V60.59M323.37 56.14h3.6M323.37 60.59h3.6M328.46 55.05V59.45M326.66 55.05h3.6M326.66 59.45h3.6M331.75 54.01V58.36M329.95 54.01h3.6M329.95 58.36h3.6M335.04 53.02V57.32M333.24 53.02h3.6M333.24 57.32h3.6M338.33 52.08V56.33M336.53 52.08h3.6M336.53 56.33h3.6M341.62 51.18V55.38M339.82 51.18h3.6M339.82 55.38h3.6M344.92 50.31V54.46M343.12 50.31h3.6M343.12 54.46h3.6M348.21 49.47V53.57M346.41 49.47h3.6M346.41 53.57h3.6M351.5 48.66V52.71M349.7 48.66h3.6M349.7 52.71h3.6M354.79 47.88V51.88M352.99 47.88h3.6M352.99 51.88h3.6M358.08 47.12V51.07M356.28 47.12h3.6M356.28 51.07h3.6M361.38 46.39V50.29M359.57 46.39h3.6M359.57 50.29h3.6M364.67 45.7V49.54M362.87 45.7h3.6M362.87 49.54h3.6M367.96 45.03V48.81M366.16 45.03h3.6M366.16 48.81h3.6M371.25 44.38V48.12M369.45 44.38h3.6M369.45 48.12h3.6M374.54 43.77V47.44M372.74 43.77h3.6M372.74 47.44h3.6M377.83 43.17V46.79M376.03 43.17h3.6M376.03 46.79h3.6M381.12 42.58V46.15M379.32 42.58h3.6M379.32 46.15h3.6M384.42 42.02V45.53M382.62 42.02h3.6M382.62 45.53h3.6M387.71 41.48V44.94M385.91 41.48h3.6M385.91 44.94h3.6M391 40.96V44.36M389.2 40.96h3.6M389.2 44.36h3.6M394.29 40.45V43.81M392.49 40.45h3.6M392.49 43.81h3.6M397.58 39.97V43.27M395.78 39.97h3.6M395.78 43.27h3.6M400.88 39.51V42.76M399.07 39.51h3.6M399.07 42.76h3.6M404.17 39.08V42.28M402.37 39.08h3.6M402.37 42.28h3.6M407.46 38.65V41.81M405.66 38.65h3.6M405.66 41.81h3.6M410.75 38.24V41.36M408.95 38.24h3.6M408.95 41.36h3.6M414.04 37.85V40.92M412.24 37.85h3.6M412.24 40.92h3.6M417.33 37.47V40.5M415.53 37.47h3.6M415.53 40.5h3.6M420.62 37.1V40.1M418.82 37.1h3.6M418.82 40.1h3.6M423.92 36.74V39.71M422.12 36.74h3.6M422.12 39.71h3.6M427.21 36.4V39.33M425.41 36.4h3.6M425.41 39.33h3.6M430.5 36.08V38.98M428.7 36.08h3.6M428.7 38.98h3.6M433.79 35.77V38.64M431.99 35.77h3.6M431.99 38.64h3.6M437.08 35.47V38.31M435.28 35.47h3.6M435.28 38.31h3.6M440.38 35.19V38M438.57 35.19h3.6M438.57 38h3.6M443.67 34.92V37.7M441.87 34.92h3.6M441.87 37.7h3.6M446.96 34.65V37.41M445.16 34.65h3.6M445.16 37.41h3.6M450.25 34.4V37.12M448.45 34.4h3.6M448.45 37.12h3.6M453.54 34.15V36.85M451.74 34.15h3.6M451.74 36.85h3.6M456.83 33.91V36.59M455.03 33.91h3.6M455.03 36.59h3.6M460.12 33.69V36.35M458.32 33.69h3.6M458.32 36.35h3.6M463.42 33.48V36.12M461.62 33.48h3.6M461.62 36.12h3.6M466.71 33.28V35.9M464.91 33.28h3.6M464.91 35.9h3.6M470 33.1V35.7M468.2 33.1h3.6M468.2 35.7h3.6" fill="none" stroke="#1a1a1a" stroke-width="0.85"/>
<path d="M72.8 268.4h4.4l-2.2 -4zM76.09 265.41h4.4l-2.2 -4zM79.38 262.48h4.4l-2.2 -4zM82.67 259.63h4.4l-2.2 -4zM85.97 256.84h4.4l-2.2 -4zM89.26 254.13h4.4l-2.2 -4zM92.55 251.58h4.4l-2.2 -4zM95.84 249.18h4.4l-2.2 -4zM99.13 246.8h4.4l-2.2 -4zM102.42 244.31h4.4l-2.2 -4zM105.72 241.59h4.4l-2.2 -4zM109.01 238.54h4.4l-2.2 -4zM112.3 235.22h4.4l-2.2 -4zM115.59 231.73h4.4l-2.2 -4zM118.88 228.16h4.4l-2.2 -4zM122.17 224.6h4.4l-2.2 -4zM125.47 220.94h4.4l-2.2 -4zM128.76 217.18h4.4l-2.2 -4zM132.05 213.39h4.4l-2.2 -4zM135.34 209.68h4.4l-2.2 -4zM138.63 206.11h4.4l-2.2 -4zM141.93 202.66h4.4l-2.2 -4zM145.22 199.29h4.4l-2.2 -4zM148.51 195.97h4.4l-2.2 -4zM151.8 192.72h4.4l-2.2 -4zM155.09 189.52h4.4l-2.2 -4zM158.38 186.38h4.4l-2.2 -4zM161.68 183.32h4.4l-2.2 -4zM164.97 180.3h4.4l-2.2 -4zM168.26 177.37h4.4l-2.2 -4zM171.55 174.44h4.4l-2.2 -4zM174.84 170.98h4.4l-2.2 -4zM178.13 167.14h4.4l-2.2 -4zM181.43 163.17h4.4l-2.2 -4zM184.72 159.3h4.4l-2.2 -4zM188.01 155.72h4.4l-2.2 -4zM191.3 152.26h4.4l-2.2 -4zM194.59 148.87h4.4l-2.2 -4zM197.88 145.52h4.4l-2.2 -4zM201.18 142.17h4.4l-2.2 -4zM204.47 138.85h4.4l-2.2 -4zM207.76 135.56h4.4l-2.2 -4zM211.05 132.32h4.4l-2.2 -4zM214.34 129.14h4.4l-2.2 -4zM217.63 126.05h4.4l-2.2 -4zM220.93 123.01h4.4l-2.2 -4zM224.22 120h4.4l-2.2 -4zM227.51 117.04h4.4l-2.2 -4zM230.8 114.12h4.4l-2.2 -4zM234.09 111.25h4.4l-2.2 -4zM237.38 108.41h4.4l-2.2 -4zM240.68 105.63h4.4l-2.2 -4zM243.97 102.89h4.4l-2.2 -4zM247.26 100.19h4.4l-2.2 -4zM250.55 97.52h4.4l-2.2 -4zM253.84 94.91h4.4l-2.2 -4zM257.13 92.36h4.4l-2.2 -4zM260.43 89.91h4.4l-2.2 -4zM263.72 87.55h4.4l-2.2 -4zM267.01 85.26h4.4l-2.2 -4zM270.3 83.04h4.4l-2.2 -4zM273.59 80.91h4.4l-2.2 -4zM276.88 78.9h4.4l-2.2 -4zM280.18 77.04h4.4l-2.2 -4zM283.47 75.3h4.4l-2.2 -4zM286.76 73.67h4.4l-2.2 -4zM290.05 72.14h4.4l-2.2 -4zM293.34 70.69h4.4l-2.2 -4zM296.63 69.34h4.4l-2.2 -4zM299.93 68.05h4.4l-2.2 -4zM303.22 66.79h4.4l-2.2 -4zM306.51 65.55h4.4l-2.2 -4zM309.8 64.31h4.4l-2.2 -4zM313.09 63.09h4.4l-2.2 -4zM316.38 61.89h4.4l-2.2 -4zM319.68 60.71h4.4l-2.2 -4zM322.97 59.56h4.4l-2.2 -4zM326.26 58.45h4.4l-2.2 -4zM329.55 57.39h4.4l-2.2 -4zM332.84 56.37h4.4l-2.2 -4zM336.13 55.41h4.4l-2.2 -4zM339.43 54.48h4.4l-2.2 -4zM342.72 53.59h4.4l-2.2 -4zM346.01 52.72h4.4l-2.2 -4zM349.3 51.88h4.4l-2.2 -4zM352.59 51.08h4.4l-2.2 -4zM355.88 50.29h4.4l-2.2 -4zM359.18 49.54h4.4l-2.2 -4zM362.47 48.82h4.4l-2.2 -4zM365.76 48.12h4.4l-2.2 -4zM369.05 47.45h4.4l-2.2 -4zM372.34 46.8h4.4l-2.2 -4zM375.63 46.18h4.4l-2.2 -4zM378.93 45.57h4.4l-2.2 -4zM382.22 44.98h4.4l-2.2 -4zM385.51 44.41h4.4l-2.2 -4zM388.8 43.86h4.4l-2.2 -4zM392.09 43.33h4.4l-2.2 -4zM395.38 42.82h4.4l-2.2 -4zM398.68 42.34h4.4l-2.2 -4zM401.97 41.88h4.4l-2.2 -4zM405.26 41.43h4.4l-2.2 -4zM408.55 41h4.4l-2.2 -4zM411.84 40.59h4.4l-2.2 -4zM415.13 40.18h4.4l-2.2 -4zM418.43 39.8h4.4l-2.2 -4zM421.72 39.42h4.4l-2.2 -4zM425.01 39.07h4.4l-2.2 -4zM428.3 38.73h4.4l-2.2 -4zM431.59 38.4h4.4l-2.2 -4zM434.88 38.09h4.4l-2.2 -4zM438.18 37.8h4.4l-2.2 -4zM441.47 37.51h4.4l-2.2 -4zM444.76 37.23h4.4l-2.2 -4zM448.05 36.96h4.4l-2.2 -4zM451.34 36.7h4.4l-2.2 -4zM454.63 36.45h4.4l-2.2 -4zM457.93 36.22h4.4l-2.2 -4zM461.22 36h4.4l-2.2 -4zM464.51 35.79h4.4l-2.2 -4zM467.8 35.6h4.4l-2.2 -4z" fill="none" stroke="#222" stroke-width="1.05"/>
<path d="M75 165.5H195M75 169.2H195M75 176.4H195M75 189.5H195M75 194.2H195M75 207.5H195" fill="none" stroke="#000" stroke-width="1.2" stroke-dasharray="5.5 8.4"/>
<path d="M411.2 166.4H456.6M411.2 164.0v4.8M456.6 164.0v4.8" fill="none" stroke="#ff2a2a" stroke-width="0.7"/>
<path d="M433.6 162l4 4.4l-4 4.4l-4 -4.4z" fill="#ff0000"/>
<path d="M411.2 186.4H456.6M411.2 184.0v4.8M456.6 184.0v4.8" fill="none" stroke="#7a5a20" stroke-width="0.7"/>
<path d="M429.3 183.8h8.6l-4.3 7.2z" fill="#664400"/>
<path d="M411.2 206.6H456.6M411.2 204.2v4.8M456.6 204.2v4.8" fill="none" stroke="#ff00ff" stroke-width="0.7"/>
<path d="M429.5 208.8h8.2l-4.1 -7.2z" fill="#ff00ff"/>
<path d="M411.2 226.6H456.6M411.2 224.2v4.8M456.6 224.2v4.8" fill="none" stroke="#404040" stroke-width="0.8"/>
<path d="M431.4 227.8h4.4l-2.2 -4z" fill="none" stroke="#303030" stroke-width="0.7"/>
<text font-size="16" y="40.8"><tspan x="83">[M</tspan><tspan x="101.1" dy="4.5" font-size="12.8">Q</tspan><tspan x="111.2" dy="-4.5">/</tspan><tspan x="116.6" font-size="14.5">σ</tspan><tspan x="126.7" dy="4.5" font-size="12.8">Q</tspan><tspan x="137.3" dy="-13.7" font-size="12.8">2</tspan><tspan x="144.6" dy="9.2" font-size="16">]</tspan><tspan x="153.3">/</tspan><tspan x="163">[M</tspan><tspan x="181.2" dy="4.5" font-size="12.8">B</tspan><tspan x="189.7" dy="-4.5">/</tspan><tspan x="194.7" font-size="14.5">σ</tspan><tspan x="204.8" dy="4.5" font-size="12.8">B</tspan><tspan x="214" dy="-13.7" font-size="12.8">2</tspan><tspan x="221.1" dy="9.2" font-size="16">]</tspan></text>
<text x="55.69" y="322.5" font-size="16" textLength="9.26" lengthAdjust="spacingAndGlyphs">0</text>
<text x="32.55" y="248.49" font-size="16" textLength="32.4" lengthAdjust="spacingAndGlyphs">0.05</text>
<text x="41.81" y="174.47" font-size="16" textLength="23.14" lengthAdjust="spacingAndGlyphs">0.1</text>
<text x="32.55" y="100.46" font-size="16" textLength="32.4" lengthAdjust="spacingAndGlyphs">0.15</text>
<text x="41.81" y="26.45" font-size="16" textLength="23.14" lengthAdjust="spacingAndGlyphs">0.2</text>
<text x="77" y="339" font-size="16" text-anchor="middle">120</text>
<text x="142.83" y="339" font-size="16" text-anchor="middle">140</text>
<text x="208.67" y="339" font-size="16" text-anchor="middle">160</text>
<text x="274.5" y="339" font-size="16" text-anchor="middle">180</text>
<text x="340.33" y="339" font-size="16" text-anchor="middle">200</text>
<text x="406.17" y="339" font-size="16" text-anchor="middle">220</text>
<text x="472" y="339" font-size="16" text-anchor="middle">240</text>
<text x="411.4" y="313.2" font-size="16" text-anchor="start">T</text>
<text x="425.8" y="313.2" font-size="16" textLength="42.6" lengthAdjust="spacingAndGlyphs">[MeV]</text>
<text x="206.5" y="172.8" font-size="14" text-anchor="start">STAR, 39 GeV</text>
<text x="206.5" y="189.3" font-size="14" text-anchor="start">STAR, 62.4 GeV</text>
<text x="206.5" y="206.3" font-size="14" text-anchor="start">STAR, 200 GeV</text>
<text x="402" y="170.6" font-size="14" text-anchor="end"><tspan font-size="12.6">μ</tspan><tspan font-size="11.2" dy="4.2">B</tspan><tspan dy="-4.2">= 100 MeV</tspan></text>
<text x="402" y="190.6" font-size="14" text-anchor="end"><tspan font-size="12.6">μ</tspan><tspan font-size="11.2" dy="4.2">B</tspan><tspan dy="-4.2">= 65 MeV</tspan></text>
<text x="402" y="210.6" font-size="14" text-anchor="end"><tspan font-size="12.6">μ</tspan><tspan font-size="11.2" dy="4.2">B</tspan><tspan dy="-4.2">= 25 MeV</tspan></text>
<text x="402" y="230.6" font-size="14" text-anchor="end"><tspan font-size="12.6">μ</tspan><tspan font-size="11.2" dy="4.2">B</tspan><tspan dy="-4.2">= 0</tspan></text>
</svg>
</body></html>
